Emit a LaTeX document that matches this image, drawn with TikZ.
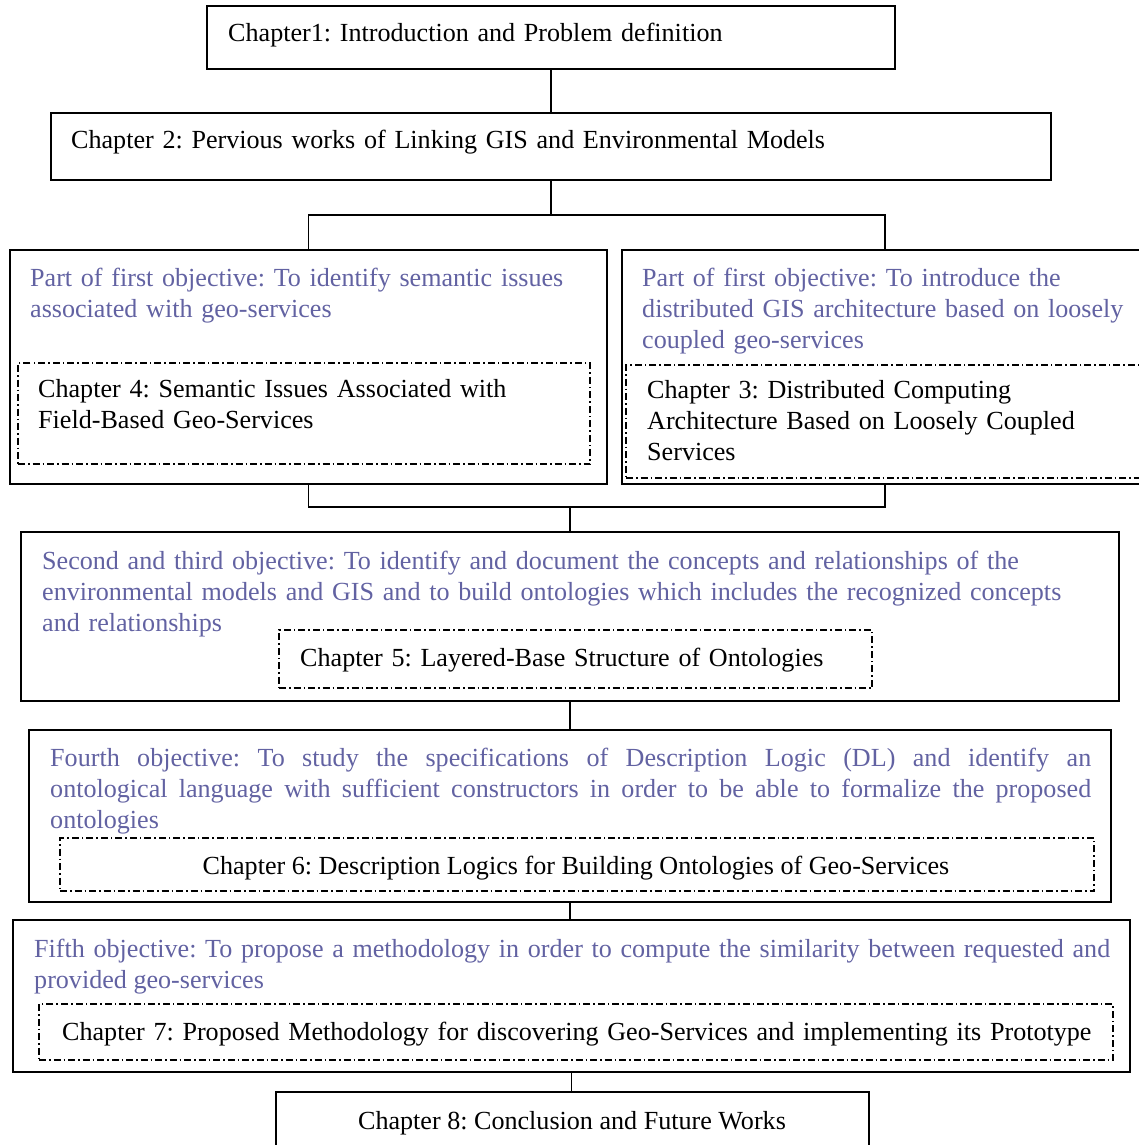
\documentclass[tikz,border=0pt]{standalone}
\usepackage{fontspec}
\setmainfont{Liberation Serif}
\frenchspacing
\definecolor{objblue}{RGB}{98,98,162}
\begin{document}
\begin{tikzpicture}[x=1pt,y=-1pt,
  box/.style={draw, line width=1.4pt, inner sep=0pt},
  dbox/.style={draw, line width=1.3pt, inner sep=0pt, dash pattern=on 7pt off 3pt on 1.5pt off 3pt},
  txt/.style={inner sep=0pt, font=\fontsize{26.1}{31}\selectfont\frenchspacing, text width=1100pt, align=left, anchor=base west},
  obj/.style={txt, text=objblue},
  ctr/.style={inner sep=0pt, font=\fontsize{26.1}{31}\selectfont\frenchspacing, anchor=base},
  conn/.style={line width=1.4pt}]
\useasboundingbox (0,0) rectangle (1138,1145);
% boxes
\node[box, minimum width=688pt, minimum height=63pt] (b1) at (551,37.5) {};
\node[box, minimum width=1000pt, minimum height=67pt] (b2) at (551,146.5) {};
\node[box, minimum width=597pt, minimum height=234pt] (bl) at (308.5,367) {};
\node[box, minimum width=526pt, minimum height=234pt] (br) at (885,367) {};
\node[dbox, minimum width=572pt, minimum height=101pt] (dl) at (304,413.5) {};
\node[dbox, minimum width=524pt, minimum height=113pt] (dr) at (888,421.5) {};
\node[box, minimum width=1098pt, minimum height=169pt] (b23) at (570,616.5) {};
\node[dbox, minimum width=593pt, minimum height=58pt] (d5) at (575.5,659) {};
\node[box, minimum width=1082pt, minimum height=172pt] (b4) at (570,816) {};
\node[dbox, minimum width=1034pt, minimum height=53pt] (d6) at (577,864.5) {};
\node[box, minimum width=1117pt, minimum height=152pt] (b5) at (571.5,996) {};
\node[dbox, minimum width=1074pt, minimum height=56pt] (d7) at (576,1032) {};
\node[box, minimum width=593pt, minimum height=58pt] (b8) at (572.5,1121) {};
% texts
\node[txt] (t1) at (228,42) {Chapter1: Introduction and Problem definition};
\node[txt] (t2) at (71,149) {Chapter 2: Pervious works of Linking GIS and Environmental Models};
\node[obj] (tl) at (30,286) {Part of first objective: To identify semantic issues\\associated with geo-services};
\node[txt] (tc4) at (38,397) {Chapter 4: Semantic Issues Associated with\\Field-Based Geo-Services};
\node[obj] (tr) at (642,286) {Part of first objective: To introduce the\\distributed GIS architecture based on loosely\\coupled geo-services};
\node[txt] (tc3) at (647,398) {Chapter 3: Distributed Computing\\Architecture Based on Loosely Coupled\\Services};
\node[obj] (t23) at (42,569) {Second and third objective: To identify and document the concepts and relationships of the\\environmental models and GIS and to build ontologies which includes the recognized concepts\\and relationships};
\node[txt] (tc5) at (300,666) {Chapter 5: Layered-Base Structure of Ontologies};
\node[obj, text width=1041pt, align=justify] (t4) at (50,766) {Fourth objective: To study the specifications of Description Logic (DL) and identify an\linebreak ontological language with sufficient constructors in order to be able to formalize the proposed\linebreak ontologies};
\node[ctr] (tc6) at (576,874) {Chapter 6: Description Logics for Building Ontologies of Geo-Services};
\node[obj, text width=1076pt, align=justify] (t5) at (34,957) {Fifth objective: To propose a methodology in order to compute the similarity between requested and\linebreak provided geo-services};
\node[txt] (tc7) at (62,1040) {Chapter 7: Proposed Methodology for discovering Geo-Services and implementing its Prototype};
\node[ctr] (tc8) at (572,1129) {Chapter 8: Conclusion and Future Works};
% connectors
\coordinate (j1) at (551,215);
\coordinate (j2) at (570,507);
\draw[conn] (b1.south) -- (b2.north);
\draw[conn] (b2.south) -- (j1);
\draw[conn] (j1) -| (bl.north);
\draw[conn] (j1) -| (br.north);
\draw[conn] (bl.south) |- (j2);
\draw[conn] (br.south) |- (j2);
\draw[line width=2.2pt] (j2) -- (b23.north);
\draw[conn] (b23.south) -- (b4.north);
\draw[conn] (b4.south) -- (b4.south |- b5.north);
\draw[conn] (b5.south) -- (b5.south |- b8.north);
\end{tikzpicture}
\end{document}
